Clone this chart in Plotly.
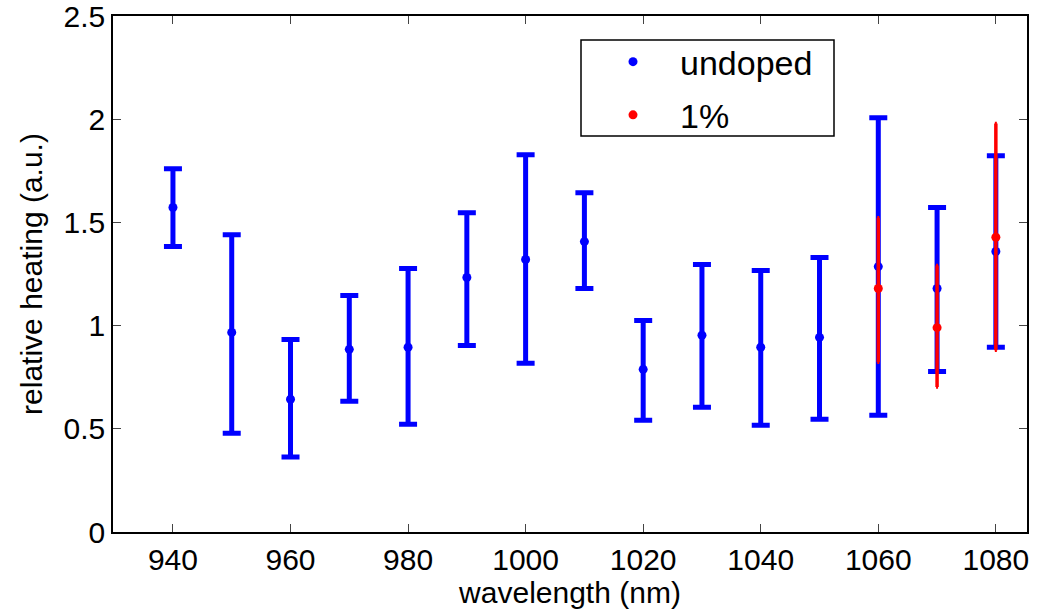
import plotly.graph_objects as go

wl_undoped = [940, 950, 960, 970, 980, 990, 1000, 1010, 1020, 1030, 1040, 1050, 1060, 1070, 1080]
heat_undoped = [1.572, 0.967, 0.643, 0.885, 0.895, 1.233, 1.320, 1.407, 0.788, 0.953, 0.895, 0.943, 1.286, 1.180, 1.359]
upper_undoped = [1.760, 1.440, 0.933, 1.146, 1.277, 1.547, 1.828, 1.644, 1.025, 1.296, 1.267, 1.330, 2.007, 1.572, 1.823]
lower_undoped = [1.383, 0.479, 0.363, 0.633, 0.522, 0.904, 0.817, 1.180, 0.542, 0.604, 0.517, 0.546, 0.566, 0.778, 0.895]

wl_doped = [1060, 1070, 1080]
heat_doped = [1.180, 0.990, 1.428]
upper_doped = [1.523, 1.291, 1.979]
lower_doped = [0.822, 0.703, 0.880]

x_ticks = [940, 960, 980, 1000, 1020, 1040, 1060, 1080]
y_ticks = [0, 0.5, 1, 1.5, 2, 2.5]
y_tick_text = ["0", "0.5", "1", "1.5", "2", "2.5"]

FONT = "Liberation Sans, Arial, Helvetica, sans-serif"

fig = go.Figure()
fig.add_trace(go.Scatter(
    x=wl_undoped, y=heat_undoped, mode="markers", name="undoped",
    legendgroup="a",
    marker=dict(color="#0000ff", size=9),
    error_y=dict(type="data", symmetric=False,
                 array=[u - h for u, h in zip(upper_undoped, heat_undoped)],
                 arrayminus=[h - l for h, l in zip(heat_undoped, lower_undoped)],
                 color="#0000ff", thickness=5, width=9),
))
fig.add_trace(go.Scatter(
    x=wl_doped, y=heat_doped, mode="markers", name="1%",
    legendgroup="b",
    marker=dict(color="#ff0000", size=9),
    error_y=dict(type="data", symmetric=False,
                 array=[u - h for u, h in zip(upper_doped, heat_doped)],
                 arrayminus=[h - l for h, l in zip(heat_doped, lower_doped)],
                 color="#ff0000", thickness=3.5, width=1),
))

axis_common = dict(
    showgrid=False, zeroline=False, showline=True, linecolor="black", linewidth=1.5,
    mirror="ticks", ticks="inside", ticklen=8, tickcolor="#444444", tickwidth=1,
    tickfont=dict(family=FONT, size=30, color="black"), automargin=False,
    ticklabeloverflow="allow",
)

fig.update_layout(
    width=1044, height=615,
    margin=dict(l=113, r=17, t=16, b=83, autoexpand=False),
    paper_bgcolor="white", plot_bgcolor="white",
    font=dict(family=FONT, color="black"),
    xaxis=dict(range=[929.8, 1085.3], tickvals=x_ticks,
               title=dict(text="wavelength (nm)", font=dict(family=FONT, size=30), standoff=7),
               **axis_common),
    yaxis=dict(range=[0, 2.5], tickvals=y_ticks, ticktext=y_tick_text,
               title=dict(text="relative heating (a.u.)", font=dict(family=FONT, size=30), standoff=12),
               **axis_common),
    showlegend=True,
    legend=dict(x=(586 - 113) / 914, y=0.967, xanchor="left", yanchor="top",
                bgcolor="rgba(0,0,0,0)", borderwidth=0,
                font=dict(family=FONT, size=34, color="black"),
                itemwidth=84,
                tracegroupgap=6, traceorder="grouped"),
    shapes=[dict(type="rect", xref="paper", yref="paper",
                 x0=(581 - 113) / 914, x1=(834 - 113) / 914,
                 y0=(532 - 136) / 516, y1=(532 - 40) / 516,
                 line=dict(color="black", width=1.5), fillcolor="white", layer="below")],
)

fig.write_html("out.html", config={"displayModeBar": False},
               post_script="document.body.style.margin='0';document.body.style.overflow='hidden';")
